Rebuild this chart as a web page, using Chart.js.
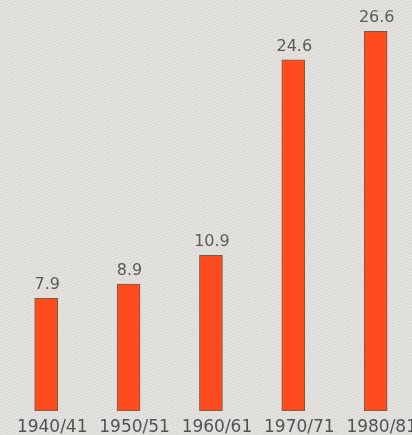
<!DOCTYPE html>
<html>
<head>
<meta charset="utf-8">
<script src="https://cdn.jsdelivr.net/npm/chart.js@4"></script>
<style>
  html, body {
    margin: 0;
    padding: 0;
    width: 412px;
    height: 435px;
    overflow: hidden;
    background-color: #e3e1dd;
    background-image: repeating-linear-gradient(160deg, rgba(0,0,0,0.035) 0px, rgba(0,0,0,0.035) 1px, transparent 1px, transparent 3px);
  }
  #wrap {
    width: 412px;
    height: 435px;
    overflow: hidden;
  }
  #barChart {
    display: block;
  }
</style>
</head>
<body>
<div id="wrap"><canvas id="barChart" width="419" height="444"></canvas></div>
<script>
const years = ["1940/41", "1950/51", "1960/61", "1970/71", "1980/81"];
const values = [7.9, 8.9, 10.9, 24.6, 26.6];
const valueLabels = ["7.9", "8.9", "10.9", "24.6", "26.6"];

// draws the number above each bar
const valueLabelPlugin = {
  id: "valueLabels",
  afterDatasetsDraw(chart) {
    const ctx = chart.ctx;
    const meta = chart.getDatasetMeta(0);
    ctx.save();
    ctx.font = "16px 'DejaVu Sans'";
    ctx.fillStyle = "#5a5a58";
    ctx.textAlign = "center";
    ctx.textBaseline = "alphabetic";
    meta.data.forEach((bar, i) => {
      ctx.fillText(valueLabels[i], bar.x + 1, bar.y - 9);
    });
    ctx.restore();
  },
};

document.addEventListener("DOMContentLoaded", function () {
  createBarChart();
});

function createBarChart() {
  var barCtx = document.getElementById("barChart").getContext("2d");
  var barChart = new Chart(barCtx, {
    type: "bar",
    data: {
      labels: years,
      datasets: [
        {
          data: values,
          backgroundColor: "#ff4b1e",
          borderColor: "#6a6046",
          borderWidth: 1,
          borderSkipped: false,
          barThickness: 23,
        },
      ],
    },
    options: {
      responsive: false,
      animation: false,
      layout: {
        padding: { left: 5, right: 0, top: 0, bottom: 0 },
      },
      plugins: {
        legend: { display: false },
        tooltip: { enabled: false },
      },
      scales: {
        x: {
          grid: { display: false, drawTicks: false },
          border: { display: false },
          ticks: {
            color: "#525250",
            font: { family: "'DejaVu Sans'", size: 17, lineHeight: 1 },
            padding: 8,
            labelOffset: 6,
            maxRotation: 0,
            autoSkip: false,
          },
        },
        y: {
          display: false,
          beginAtZero: true,
          min: 0,
          max: 28.8,
        },
      },
    },
    plugins: [valueLabelPlugin],
  });
}
</script>
</body>
</html>
